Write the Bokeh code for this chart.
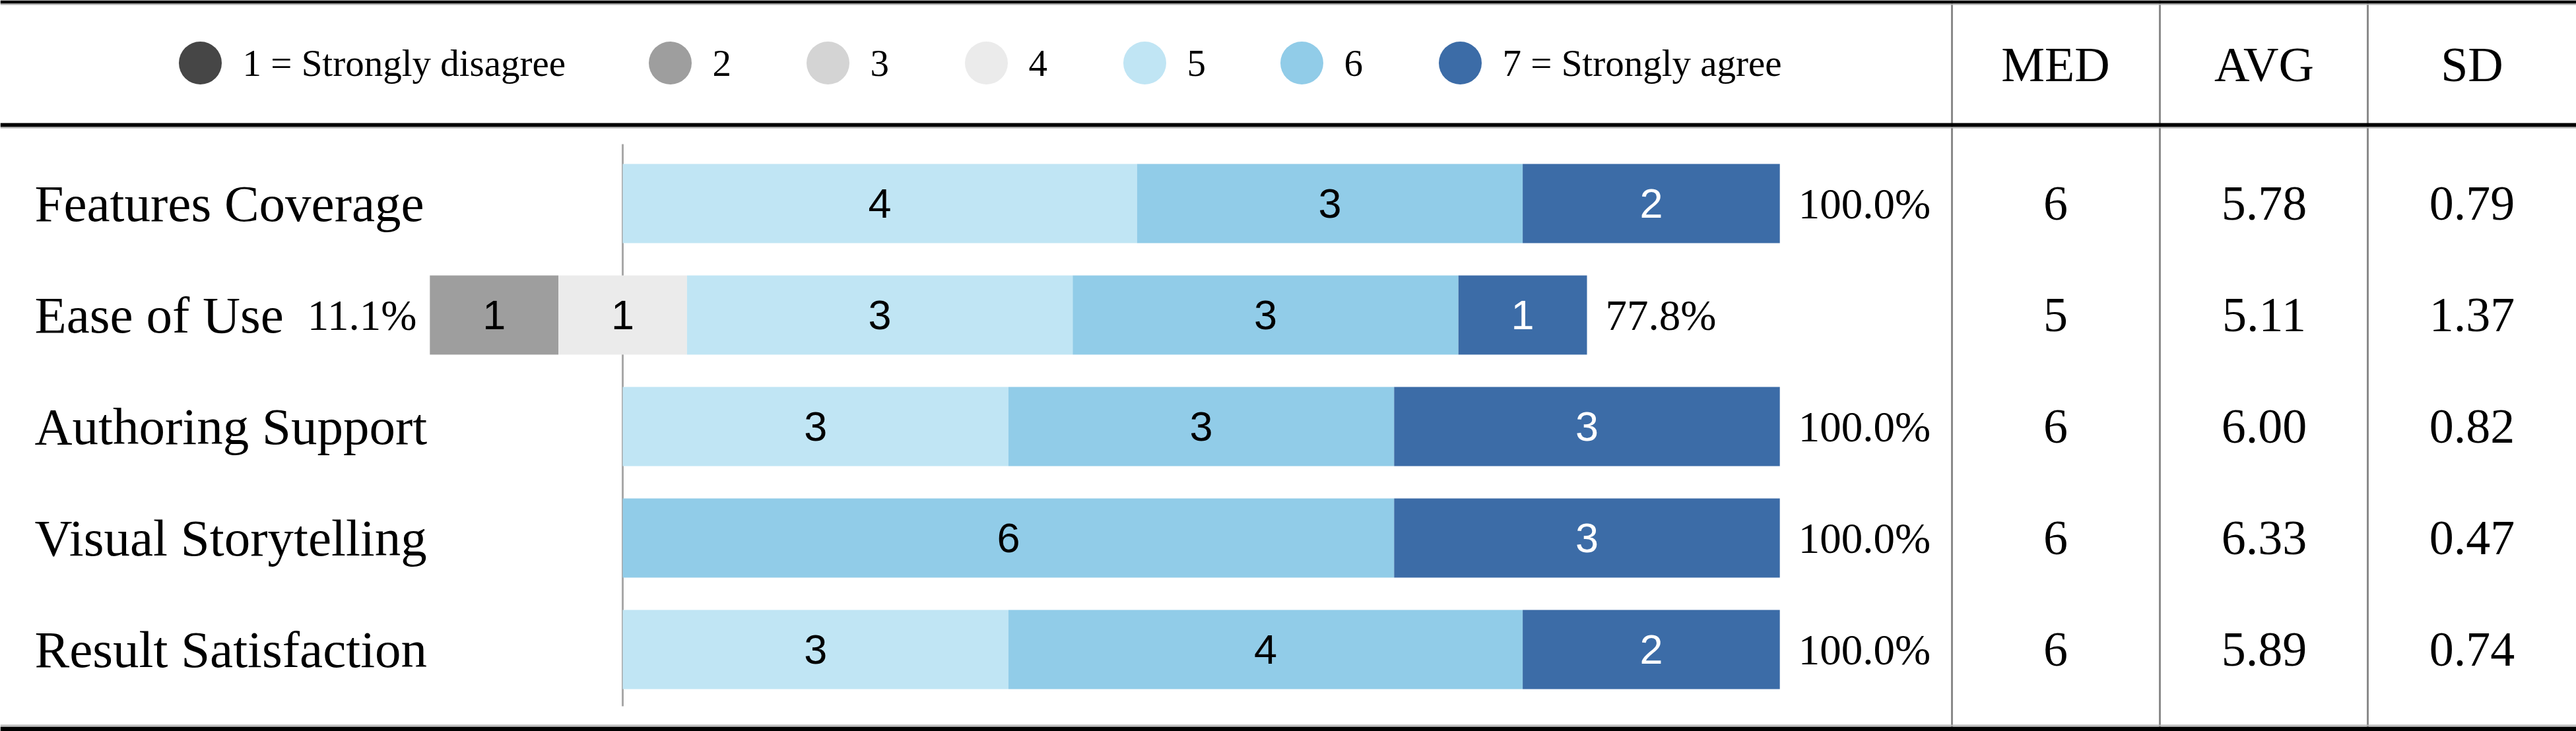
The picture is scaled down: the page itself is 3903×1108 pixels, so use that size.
from bokeh.plotting import figure
from bokeh.models import Range1d, Span, ColumnDataSource
from bokeh.core.properties import value
from bokeh.embed import file_html
from bokeh.resources import INLINE

# ---------------- data ----------------
categories = ["Features Coverage", "Ease of Use", "Authoring Support",
              "Visual Storytelling", "Result Satisfaction"]
level_labels = ["1 = Strongly disagree", "2", "3", "4", "5", "6", "7 = Strongly agree"]
level_colors = ["#464646", "#9e9e9e", "#d4d4d4", "#ebebeb", "#c0e5f4", "#91cce8", "#3c6ca7"]
level_text_colors = ["white", "black", "black", "black", "black", "black", "white"]

count_1 = [0, 0, 0, 0, 0]
count_2 = [0, 1, 0, 0, 0]
count_3 = [0, 0, 0, 0, 0]
count_4 = [0, 1, 0, 0, 0]
count_5 = [4, 3, 3, 0, 3]
count_6 = [3, 3, 3, 6, 4]
count_7 = [2, 1, 3, 3, 2]

table_headers = ["MED", "AVG", "SD"]
med = ["6", "5", "6", "6", "6"]
avg = ["5.78", "5.11", "6.00", "6.33", "5.89"]
sd = ["0.79", "1.37", "0.82", "0.47", "0.74"]

# ---------------- layout ----------------
W, H = 3903, 1108
ZERO_PX, UNIT_PX = 943.0, 194.8     # pixel of the zero line, pixels per respondent
ROW0_PX, ROW_PX = 308.0, 169.0      # pixel of first row centre, row pitch
BAR_H_PX = 120.0


def px_x(px):
    return (px - ZERO_PX) / UNIT_PX


def px_y(py):
    return (py - ROW0_PX) / ROW_PX


SERIF = value("Liberation Serif")
SANS = value("Liberation Sans")

p = figure(width=W, height=H,
           x_range=Range1d(px_x(0), px_x(W)),
           y_range=Range1d(px_y(H), px_y(0)),
           output_backend="svg", toolbar_location=None, min_border=0)
p.axis.visible = False
p.grid.visible = False
p.outline_line_color = None
p.background_fill_color = "white"
p.border_fill_color = "white"

# zero line (behind the bars)
p.segment(x0=[0], y0=[px_y(218)], x1=[0], y1=[px_y(1070)], line_color="#a8a8a8", line_width=3)

# ---------------- stacked diverging bars ----------------
all_counts = [count_1, count_2, count_3, count_4, count_5, count_6, count_7]
seg = dict(y=[], left=[], right=[], mid=[], color=[], label=[], tcolor=[])
pr = dict(x=[], y=[], text=[])
pl = dict(x=[], y=[], text=[])
for i, cat in enumerate(categories):
    counts = [c[i] for c in all_counts]
    n = sum(counts)
    disagree = counts[0] + counts[1] + counts[2]
    agree = counts[4] + counts[5] + counts[6]
    start = -disagree - counts[3] / 2.0
    left = start
    for k, c in enumerate(counts):
        if c > 0:
            seg["y"].append(i)
            seg["left"].append(left)
            seg["right"].append(left + c)
            seg["mid"].append(left + c / 2.0)
            seg["color"].append(level_colors[k])
            seg["label"].append(str(c))
            seg["tcolor"].append(level_text_colors[k])
        left += c
    pr["x"].append(start + n + 28 / UNIT_PX)
    pr["y"].append(i)
    pr["text"].append(f"{agree / n * 100:.1f}%")
    if disagree > 0:
        pl["x"].append(start - 20 / UNIT_PX)
        pl["y"].append(i)
        pl["text"].append(f"{disagree / n * 100:.1f}%")

src = ColumnDataSource(seg)
p.hbar(y="y", left="left", right="right", height=BAR_H_PX / ROW_PX,
       fill_color="color", line_color=None, source=src)
p.text(x="mid", y="y", text="label", text_color="tcolor", source=src,
       text_font=SANS, text_font_size="63px", text_align="center", text_baseline="middle")

# percentages
p.text(x=pr["x"], y=pr["y"], text=pr["text"], text_font=SERIF, text_font_size="65px",
       text_align="left", text_baseline="middle", text_color="black")
p.text(x=pl["x"], y=pl["y"], text=pl["text"], text_font=SERIF, text_font_size="65px",
       text_align="right", text_baseline="middle", text_color="black")

# row labels
p.text(x=[px_x(52)] * len(categories), y=list(range(len(categories))), text=categories,
       text_font=SERIF, text_font_size="79px", text_align="left", text_baseline="middle",
       text_color="black")

# ---------------- legend ----------------
LEGEND_PX = [303, 1015, 1254, 1494, 1734, 1972, 2212]
leg_x = [px_x(v) for v in LEGEND_PX]
leg_y = [px_y(95)] * len(LEGEND_PX)
p.scatter(x=leg_x, y=leg_y, size=65, marker="circle", fill_color=level_colors, line_color=None)
p.text(x=[px_x(v + 64) for v in LEGEND_PX], y=leg_y, text=level_labels, text_font=SERIF,
       text_font_size="57px", text_align="left", text_baseline="middle", text_color="black")

# ---------------- table ----------------
COL_LINES_PX = [2957, 3272, 3587]
COL_CENTER_PX = [3114, 3430, 3745]
p.segment(x0=[px_x(v) for v in COL_LINES_PX], y0=[px_y(0)] * 3,
          x1=[px_x(v) for v in COL_LINES_PX], y1=[px_y(1101)] * 3,
          line_color="#8a8a8a", line_width=3)
p.text(x=[px_x(v) for v in COL_CENTER_PX], y=[px_y(97)] * 3, text=table_headers,
       text_font=SERIF, text_font_size="74px", text_align="center", text_baseline="middle",
       text_color="black")
for col_px, vals in zip(COL_CENTER_PX, [med, avg, sd]):
    p.text(x=[px_x(col_px)] * len(vals), y=list(range(len(vals))), text=vals,
           text_font=SERIF, text_font_size="74px", text_align="center",
           text_baseline="middle", text_color="black")

# ---------------- horizontal rules ----------------
p.add_layout(Span(location=px_y(2.5), dimension="width", line_color="black", line_width=5))
p.add_layout(Span(location=px_y(6), dimension="width", line_color="#b0b0b0", line_width=2))
p.add_layout(Span(location=px_y(189), dimension="width", line_color="black", line_width=6))
p.add_layout(Span(location=px_y(193), dimension="width", line_color="#b0b0b0", line_width=2))
p.add_layout(Span(location=px_y(1099), dimension="width", line_color="#b0b0b0", line_width=2))
p.add_layout(Span(location=px_y(1104.5), dimension="width", line_color="black", line_width=7))

open("out.html", "w").write(file_html(p, INLINE))
